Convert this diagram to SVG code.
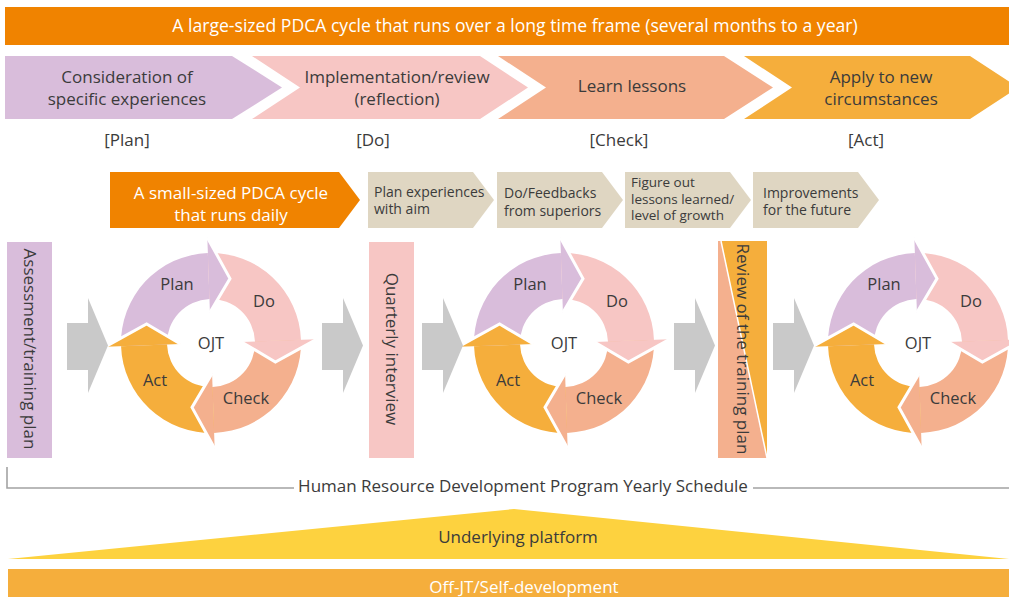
<svg xmlns="http://www.w3.org/2000/svg" xmlns:xlink="http://www.w3.org/1999/xlink" width="1009" height="597" viewBox="0 0 1009 597">
<style>
  text { font-family: "Open Sans", "Noto Sans", "Liberation Sans", sans-serif; fill: #3b3b3b; }
  .w { fill: #ffffff; }
  .c { text-anchor: middle; }
  .f17 { font-size: 17px; }
  .f175 { font-size: 17.6px; }
  .f16 { font-size: 16.5px; }
  .f14 { font-size: 14px; }
  .f135 { font-size: 13.5px; }
  .plan { fill: #D9BDDB; }
  .do { fill: #F7C6C4; }
  .check { fill: #F4B08E; }
  .act { fill: #F5AE3C; }
  .orange { fill: #F08300; }
  .beige { fill: #DFD6C2; }
  .gray { fill: #C9C9C9; }
  .hd { stroke: #ffffff; stroke-width: 3; stroke-linejoin: miter; }
</style>
<defs>
  <path id="body" d="M -89.945 3.141 A 90 90 0 0 1 -3.141 -89.945 L -1.536 -43.973 A 44 44 0 0 0 -43.973 1.536 Z"/>
  <path id="head" d="M -3.665 -105.5 L 19 -64.4 L -1.082 -30.5"/>
  <path id="garrow" d="M0 25 H21 V0 L41 47.5 L21 95 V72 H0 Z"/>
  <path id="beigechev" d="M0 0 H105 L126 28 L105 56 H0 Z"/>
</defs>

<g id="top-banner">
  <rect x="5" y="7" width="1004" height="38" class="orange"/>
  <text x="515" y="32" class="w c f175">A large-sized PDCA cycle that runs over a long time frame (several months to a year)</text>
</g>

<g id="stage-plan">
  <polygon points="5,56 232,56 282,87.5 232,119 5,119" class="plan"/>
  <text x="127" y="83" class="c f17">Consideration of</text>
  <text x="127" y="105" class="c f17">specific experiences</text>
  <text x="127" y="146" class="c f17">[Plan]</text>
</g>
<g id="stage-do">
  <polygon points="252,56 480,56 528,87.5 480,119 252,119 300,87.5" class="do"/>
  <text x="397" y="83" class="c f17">Implementation/review</text>
  <text x="397" y="105" class="c f17">(reflection)</text>
  <text x="373" y="146" class="c f17">[Do]</text>
</g>
<g id="stage-check">
  <polygon points="498,56 724,56 773,87.5 724,119 498,119 546,87.5" class="check"/>
  <text x="632" y="92" class="c f17">Learn lessons</text>
  <text x="619" y="146" class="c f17">[Check]</text>
</g>
<g id="stage-act">
  <polygon points="744,56 970,56 1018,87.5 970,119 744,119 792,87.5" class="act"/>
  <text x="881" y="83" class="c f17">Apply to new</text>
  <text x="881" y="105" class="c f17">circumstances</text>
  <text x="866" y="146" class="c f17">[Act]</text>
</g>

<g id="small-banner">
  <polygon points="110,172 339,172 360,200 339,228 110,228" class="orange"/>
  <text x="231" y="199" class="w c f17">A small-sized PDCA cycle</text>
  <text x="231" y="221" class="w c f17">that runs daily</text>
</g>
<g id="step-plan">
  <use href="#beigechev" x="368" y="172" class="beige"/>
  <text x="374" y="197" class="f14">Plan experiences</text>
  <text x="374" y="214" class="f14">with aim</text>
</g>
<g id="step-do">
  <use href="#beigechev" x="497" y="172" class="beige"/>
  <text x="504" y="198" class="f14">Do/Feedbacks</text>
  <text x="504" y="216" class="f14">from superiors</text>
</g>
<g id="step-check">
  <use href="#beigechev" x="625" y="172" class="beige"/>
  <text x="631" y="187" class="f135">Figure out</text>
  <text x="631" y="203.5" class="f135">lessons learned/</text>
  <text x="631" y="220" class="f135">level of growth</text>
</g>
<g id="step-act">
  <use href="#beigechev" x="753" y="172" class="beige"/>
  <text x="763" y="198" class="f14">Improvements</text>
  <text x="763" y="215" class="f14">for the future</text>
</g>

<g id="assessment">
  <rect x="7" y="242" width="45" height="216" class="plan"/>
  <text transform="translate(30,349) rotate(90)" x="0" y="6" class="c f17">Assessment/training plan</text>
</g>
<g id="quarterly">
  <rect x="369" y="242" width="45" height="216" class="do"/>
  <text transform="translate(392,349) rotate(90)" x="0" y="6" class="c f17">Quarterly interview</text>
</g>
<g id="review">
  <polygon points="718,241 721,241 767,458 718,458" class="check"/>
  <polygon points="721,241 767,241 767,458" class="act"/>
  <line x1="721" y1="241" x2="767" y2="458" stroke="#ffffff" stroke-width="1.5"/>
  <text transform="translate(743,349) rotate(90)" x="0" y="6" class="c f17">Review of the training plan</text>
</g>

<g id="cycle-1" transform="translate(211,343)">
  <use href="#body" class="plan"/>
  <use href="#body" class="do" transform="rotate(90)"/>
  <use href="#body" class="check" transform="rotate(180)"/>
  <use href="#body" class="act" transform="rotate(270)"/>
  <use href="#head" class="plan hd"/>
  <use href="#head" class="do hd" transform="rotate(90)"/>
  <use href="#head" class="check hd" transform="rotate(180)"/>
  <use href="#head" class="act hd" transform="rotate(270)"/>
  <text x="-34" y="-53" class="c f16">Plan</text>
  <text x="53" y="-36" class="c f16">Do</text>
  <text x="0" y="6" class="c f16">OJT</text>
  <text x="-56" y="43" class="c f16">Act</text>
  <text x="35" y="61" class="c f16">Check</text>
</g>
<g id="cycle-2" transform="translate(564,343)">
  <use href="#body" class="plan"/>
  <use href="#body" class="do" transform="rotate(90)"/>
  <use href="#body" class="check" transform="rotate(180)"/>
  <use href="#body" class="act" transform="rotate(270)"/>
  <use href="#head" class="plan hd"/>
  <use href="#head" class="do hd" transform="rotate(90)"/>
  <use href="#head" class="check hd" transform="rotate(180)"/>
  <use href="#head" class="act hd" transform="rotate(270)"/>
  <text x="-34" y="-53" class="c f16">Plan</text>
  <text x="53" y="-36" class="c f16">Do</text>
  <text x="0" y="6" class="c f16">OJT</text>
  <text x="-56" y="43" class="c f16">Act</text>
  <text x="35" y="61" class="c f16">Check</text>
</g>
<g id="cycle-3" transform="translate(918,343)">
  <use href="#body" class="plan"/>
  <use href="#body" class="do" transform="rotate(90)"/>
  <use href="#body" class="check" transform="rotate(180)"/>
  <use href="#body" class="act" transform="rotate(270)"/>
  <use href="#head" class="plan hd"/>
  <use href="#head" class="do hd" transform="rotate(90)"/>
  <use href="#head" class="check hd" transform="rotate(180)"/>
  <use href="#head" class="act hd" transform="rotate(270)"/>
  <text x="-34" y="-53" class="c f16">Plan</text>
  <text x="53" y="-36" class="c f16">Do</text>
  <text x="0" y="6" class="c f16">OJT</text>
  <text x="-56" y="43" class="c f16">Act</text>
  <text x="35" y="61" class="c f16">Check</text>
</g>

<g id="connectors">
  <use href="#garrow" x="67" y="298" class="gray"/>
  <use href="#garrow" x="322" y="298" class="gray"/>
  <use href="#garrow" x="422" y="298" class="gray"/>
  <use href="#garrow" x="674" y="298" class="gray"/>
  <use href="#garrow" x="773" y="298" class="gray"/>
</g>

<g id="schedule">
  <path d="M7 467 V488 H294 M753 488 H1009" fill="none" stroke="#A3A3A3" stroke-width="1.6"/>
  <text x="523" y="492" class="c f17">Human Resource Development Program Yearly Schedule</text>
</g>
<g id="platform">
  <polygon points="514,509 1009,559 8,559" fill="#FDD23F"/>
  <text x="518" y="543" class="c f17">Underlying platform</text>
</g>
<g id="offjt">
  <rect x="8" y="569" width="1001" height="28" class="act"/>
  <text x="524" y="593" class="w c f17">Off-JT/Self-development</text>
</g>
</svg>
